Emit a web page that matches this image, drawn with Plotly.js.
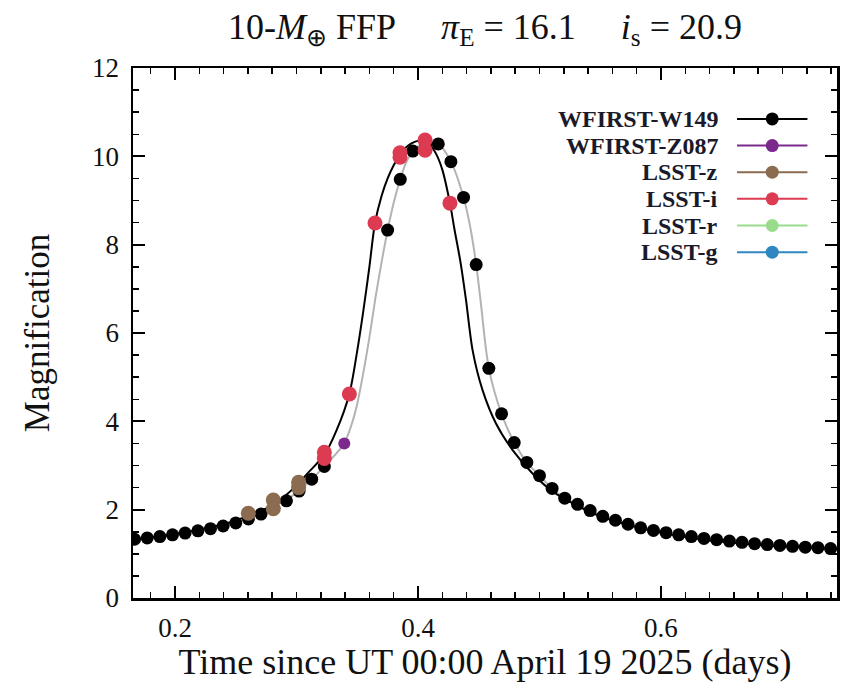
<!DOCTYPE html>
<html><head><meta charset="utf-8">
<script src="https://cdn.plot.ly/plotly-3.0.1.min.js"></script>
<style>html,body{margin:0;padding:0;background:#fff}</style>
</head><body><div id="chart" style="width:844px;height:682px"></div>
<script>
// ---- data ----
const w149Time = [0.1667,0.1771,0.1875,0.1979,0.2083,0.2188,0.2292,0.2396,0.2500,0.2604,0.2708,0.2813,0.2917,0.3021,0.3125,0.3229,
  0.3750,0.3854,0.3958,0.4063,0.4167,0.4271,0.4375,0.4479,0.4583,0.4688,0.4792,0.4896,0.5000,0.5104,0.5208,0.5313,0.5417,0.5521,
  0.5625,0.5729,0.5833,0.5938,0.6042,0.6146,0.6250,0.6354,0.6458,0.6563,0.6667,0.6771,0.6875,0.6979,0.7083,0.7188,0.7292,0.7396];
const w149Mag = [1.33,1.36,1.39,1.43,1.47,1.52,1.57,1.63,1.70,1.79,1.90,2.03,2.20,2.42,2.69,2.98,
  8.33,9.48,10.12,10.28,10.28,9.88,9.07,7.55,5.20,4.17,3.52,3.07,2.77,2.48,2.26,2.12,1.98,1.85,
  1.76,1.67,1.59,1.53,1.48,1.43,1.39,1.35,1.32,1.29,1.26,1.23,1.21,1.19,1.17,1.15,1.14,1.12];

const z087Time = [0.3393];
const z087Mag = [3.50];

const lsstZTime = [0.2603,0.2809,0.2809,0.3017,0.3017];
const lsstZMag = [1.92,2.02,2.22,2.50,2.62];

const lsstITime = [0.3229,0.3229,0.3435,0.3646,0.3852,0.3852,0.4058,0.4058,0.4263];
const lsstIMag = [3.16,3.30,4.62,8.49,9.98,10.08,10.37,10.14,8.94];

const lsstRTime = [];
const lsstRMag = [];
const lsstGTime = [];
const lsstGMag = [];

// WFIRST model curve (grey)
const spaceModelTime = [0.160,0.180,0.200,0.220,0.240,0.260,0.280,0.300,0.3125,0.3229,0.333,0.3393,0.345,0.350,0.355,0.360,0.365,0.370,0.375,0.380,
  0.3854,0.390,0.3958,0.401,0.4063,0.4167,0.4271,0.4375,0.443,0.4479,0.4516,0.4583,0.4688,0.4792,0.4896,0.500,0.5104,0.5208,0.5313,
  0.5417,0.5521,0.5729,0.600,0.630,0.660,0.700,0.750];
const spaceModelMag = [1.31,1.37,1.45,1.55,1.67,1.79,2.05,2.38,2.69,2.98,3.28,3.50,3.90,4.40,5.10,5.90,6.80,7.60,8.33,8.95,
  9.48,9.85,10.12,10.25,10.30,10.28,9.88,9.07,8.40,7.55,6.71,5.20,4.17,3.52,3.07,2.77,2.48,2.26,2.12,
  1.98,1.85,1.67,1.48,1.34,1.25,1.17,1.11];

// LSST (ground) model curve (black)
const groundModelTime = [0.160,0.180,0.200,0.220,0.240,0.260,0.280,0.290,0.300,0.310,0.3229,0.333,0.3435,0.350,0.355,0.360,0.3646,0.370,0.375,0.380,
  0.3852,0.390,0.395,0.400,0.405,0.410,0.415,0.420,0.4263,0.430,0.435,0.4395,0.445,0.4532,0.4642,0.4779,0.4943,0.5109,0.5274,
  0.550,0.5729,0.600,0.630,0.660,0.700,0.750];
const groundModelMag = [1.31,1.37,1.45,1.55,1.67,1.86,2.10,2.30,2.55,2.85,3.24,3.80,4.62,5.60,6.50,7.50,8.49,9.10,9.50,9.80,
  10.03,10.20,10.30,10.35,10.33,10.25,10.05,9.70,8.94,8.35,7.60,6.75,5.60,4.70,3.95,3.35,2.82,2.41,2.14,
  1.85,1.66,1.48,1.34,1.25,1.17,1.11];

const legendNames = ['WFIRST-W149','WFIRST-Z087','LSST-z','LSST-i','LSST-r','LSST-g'];
const legendColors = ['#000000','#7b2a8c','#8b6c51','#dc3b52','#98dc8c','#2f86c0'];

const xTickVals = [0.2,0.4,0.6];
const xTickText = ['0.2','0.4','0.6'];
const yTickVals = [0,2,4,6,8,10,12];
const yTickText = ['0','2','4','6','8','10','12'];

// ---- plot ----
const serif = 'Liberation Serif, Times New Roman, serif';
const traces = [
  {x: spaceModelTime, y: spaceModelMag, mode:'lines', line:{color:'#b3b3b3', width:2, shape:'spline', smoothing:0.8}, showlegend:false, hoverinfo:'skip'},
  {x: groundModelTime, y: groundModelMag, mode:'lines', line:{color:'#000000', width:2, shape:'spline', smoothing:0.8}, showlegend:false, hoverinfo:'skip'},
  {x: w149Time, y: w149Mag, mode:'markers', marker:{color:legendColors[0], size:13}, name:legendNames[0], showlegend:false},
  {x: z087Time, y: z087Mag, mode:'markers', marker:{color:legendColors[1], size:12}, name:legendNames[1], showlegend:false},
  {x: lsstZTime, y: lsstZMag, mode:'markers', marker:{color:legendColors[2], size:15}, name:legendNames[2], showlegend:false},
  {x: lsstITime, y: lsstIMag, mode:'markers', marker:{color:legendColors[3], size:15}, name:legendNames[3], showlegend:false},
  {x: lsstRTime, y: lsstRMag, mode:'markers', marker:{color:legendColors[4], size:15}, name:legendNames[4], showlegend:false},
  {x: lsstGTime, y: lsstGMag, mode:'markers', marker:{color:legendColors[5], size:15}, name:legendNames[5], showlegend:false}
];

// legend drawn at the right-hand side (symbol after the text, as in the reference)
const annotations = [];
const shapes = [];
const rowTop = 0.904, rowStep = 0.0503;
legendNames.forEach((nm, i) => {
  const yy = rowTop - i*rowStep;
  annotations.push({xref:'paper', yref:'paper', x:0.834, y:yy, xanchor:'right', yanchor:'middle',
    text:nm, showarrow:false, font:{family:serif, size:24, weight:'bold', color:'#1a1a2a'}});
  shapes.push({type:'line', xref:'paper', yref:'paper', x0:0.858, x1:0.958, y0:yy, y1:yy,
    line:{color:legendColors[i], width:2}});
  shapes.push({type:'circle', xref:'paper', yref:'paper', xsizemode:'pixel', ysizemode:'pixel',
    xanchor:0.908, yanchor:yy, x0:-6.5, x1:6.5, y0:-6.5, y1:6.5,
    fillcolor:legendColors[i], line:{color:legendColors[i], width:0}});
});

const sp = '\u00a0\u00a0\u00a0\u00a0\u00a0';
const layout = {
  width:844, height:682,
  margin:{l:133, r:7, t:68, b:84},
  paper_bgcolor:'#ffffff', plot_bgcolor:'#ffffff',
  font:{family:serif, color:'#111', size:26},
  title:{text:'10-<i>M</i><sub>⊕</sub> FFP'+sp+'<i>π</i><sub>E</sub> = 16.1'+sp+'<i>i</i><sub>s</sub> = 20.9',
    font:{family:serif, size:36, color:'#111'}, xref:'paper', x:0.5, xanchor:'center', yref:'container', y:0.962, yanchor:'middle'},
  xaxis:{range:[0.1654,0.7449], tickmode:'array', tickvals:xTickVals, ticktext:xTickText,
    ticks:'inside', ticklen:12, tickwidth:1.8, tickcolor:'#000',
    minor:{dtick:0.02, tick0:0, ticks:'inside', ticklen:6, tickwidth:1.5, tickcolor:'#000'},
    showline:true, linewidth:2.5, linecolor:'#000', mirror:'allticks', showgrid:false, zeroline:false,
    tickfont:{family:serif, size:27}, ticklabelstandoff:4,
    title:{text:'Time since UT 00:00 April 19 2025 (days)', font:{family:serif, size:36}, standoff:5}},
  yaxis:{range:[0,12], tickmode:'array', tickvals:yTickVals, ticktext:yTickText,
    ticks:'inside', ticklen:12, tickwidth:1.8, tickcolor:'#000',
    minor:{dtick:0.5, tick0:0, ticks:'inside', ticklen:6, tickwidth:1.5, tickcolor:'#000'},
    showline:true, linewidth:2.5, linecolor:'#000', mirror:'allticks', showgrid:false, zeroline:false,
    tickfont:{family:serif, size:27}, ticklabelstandoff:6,
    title:{text:'Magnification', font:{family:serif, size:35}, standoff:32}},
  annotations: annotations,
  shapes: shapes
};

Plotly.newPlot('chart', traces, layout, {staticPlot:true, displayModeBar:false});
</script>
</body></html>
